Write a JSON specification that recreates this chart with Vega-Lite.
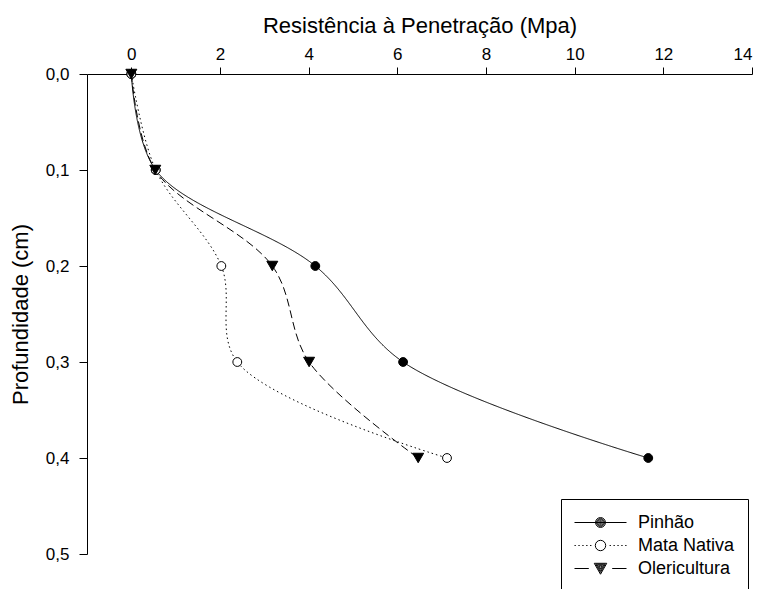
{
  "$schema": "https://vega.github.io/schema/vega-lite/v6.json",
  "autosize": {"type": "none"},
  "padding": {"left": 87, "top": 74, "right": 10, "bottom": 35},
  "width": 665,
  "height": 480,
  "background": "white",
  "config": {
    "view": {"stroke": null},
    "font": "Liberation Sans",
    "axis": {
      "domainColor": "black",
      "tickColor": "black",
      "labelColor": "black",
      "titleColor": "black",
      "labelFont": "Liberation Sans",
      "titleFont": "Liberation Sans",
      "titleFontWeight": "normal",
      "grid": false
    }
  },
  "data": {
    "values": [
      {"serie": "Pinhão", "resist": 0, "prof": 0},
      {"serie": "Pinhão", "resist": 0.55, "prof": 0.1},
      {"serie": "Pinhão", "resist": 4.15, "prof": 0.2},
      {"serie": "Pinhão", "resist": 6.13, "prof": 0.3},
      {"serie": "Pinhão", "resist": 11.66, "prof": 0.4},
      {"serie": "Mata Nativa", "resist": 0, "prof": 0},
      {"serie": "Mata Nativa", "resist": 0.55, "prof": 0.1},
      {"serie": "Mata Nativa", "resist": 2.03, "prof": 0.2},
      {"serie": "Mata Nativa", "resist": 2.39, "prof": 0.3},
      {"serie": "Mata Nativa", "resist": 7.12, "prof": 0.4},
      {"serie": "Olericultura", "resist": 0, "prof": 0},
      {"serie": "Olericultura", "resist": 0.54, "prof": 0.1},
      {"serie": "Olericultura", "resist": 3.18, "prof": 0.2},
      {"serie": "Olericultura", "resist": 4.01, "prof": 0.3},
      {"serie": "Olericultura", "resist": 6.47, "prof": 0.4}
    ]
  },
  "encoding": {
    "x": {
      "field": "resist",
      "type": "quantitative",
      "scale": {"domain": [-1, 14], "nice": false, "zero": false},
      "axis": {
        "orient": "top",
        "values": [0, 2, 4, 6, 8, 10, 12, 14],
        "tickSize": 7,
        "labelPadding": 4,
        "labelFontSize": 17,
        "title": "Resistência à Penetração (Mpa)",
        "titleFontSize": 22,
        "titlePadding": 8
      }
    },
    "y": {
      "field": "prof",
      "type": "quantitative",
      "scale": {"domain": [0, 0.5], "nice": false, "reverse": true},
      "axis": {
        "orient": "left",
        "values": [0, 0.1, 0.2, 0.3, 0.4, 0.5],
        "labelExpr": "replace(format(datum.value, '.1f'), '.', ',')",
        "tickSize": 8,
        "labelPadding": 10,
        "labelFontSize": 17,
        "title": "Profundidade (cm)",
        "titleFontSize": 22,
        "titlePadding": 13
      }
    }
  },
  "layer": [
    {
      "mark": {"type": "line", "interpolate": "catmull-rom", "color": "black", "strokeWidth": 1},
      "encoding": {
        "detail": {"field": "serie"},
        "order": {"field": "prof", "type": "quantitative"},
        "strokeDash": {
          "condition": [
            {"test": "datum.serie === 'Mata Nativa'", "value": [1.5, 3]},
            {"test": "datum.serie === 'Olericultura'", "value": [8, 4]}
          ],
          "value": [1, 0]
        }
      }
    },
    {
      "mark": {"type": "point", "filled": true, "stroke": "black", "strokeWidth": 1, "opacity": 1},
      "encoding": {
        "fill": {
          "condition": {"test": "datum.serie === 'Mata Nativa'", "value": "white"},
          "value": "black"
        },
        "size": {
          "condition": {"test": "datum.serie === 'Olericultura'", "value": 120},
          "value": 78
        },
        "shape": {
          "condition": {"test": "datum.serie === 'Olericultura'", "value": "triangle-down"},
          "value": "circle"
        }
      }
    },
    {
      "transform": [{"filter": "false"}],
      "mark": {"type": "point", "filled": false, "color": "black", "strokeWidth": 1, "opacity": 1},
      "encoding": {
        "shape": {
          "field": "serie",
          "type": "nominal",
          "scale": {
            "domain": ["Pinhão", "Mata Nativa", "Olericultura"],
            "range": [
              "M-1,0H1M0.19,0A0.19,0.19,0,1,1,-0.19,0A0.19,0.19,0,1,1,0.19,0M0.15,0A0.15,0.15,0,1,1,-0.15,0A0.15,0.15,0,1,1,0.15,0M0.11,0A0.11,0.11,0,1,1,-0.11,0A0.11,0.11,0,1,1,0.11,0M0.07,0A0.07,0.07,0,1,1,-0.07,0A0.07,0.07,0,1,1,0.07,0M0.03,0A0.03,0.03,0,1,1,-0.03,0A0.03,0.03,0,1,1,0.03,0",
              "M-1,0H-0.95M-0.85,0H-0.8M-0.7,0H-0.65M-0.55,0H-0.5M-0.4,0H-0.35M0.35,0H0.4M0.5,0H0.55M0.65,0H0.7M0.8,0H0.85M0.95,0H1M0.2,0A0.2,0.2,0,1,1,-0.2,0A0.2,0.2,0,1,1,0.2,0",
              "M-1,0H-0.45M0.45,0H1M-0.24,-0.2L0.24,-0.2L0,0.22ZM-0.18,-0.165L0.18,-0.165L0,0.15ZM-0.12,-0.13L0.12,-0.13L0,0.08ZM-0.06,-0.095L0.06,-0.095L0,0.01Z"
            ]
          },
          "legend": {
            "title": null,
            "orient": "none",
            "legendX": 474,
            "legendY": 425,
            "strokeColor": "black",
            "fillColor": "white",
            "padding": 13,
            "clipHeight": 21,
            "rowPadding": 2,
            "labelFontSize": 18,
            "labelFont": "Liberation Sans",
            "labelColor": "black",
            "labelOffset": 11,
            "symbolSize": 2704,
            "symbolStrokeWidth": 1
          }
        }
      }
    }
  ]
}
